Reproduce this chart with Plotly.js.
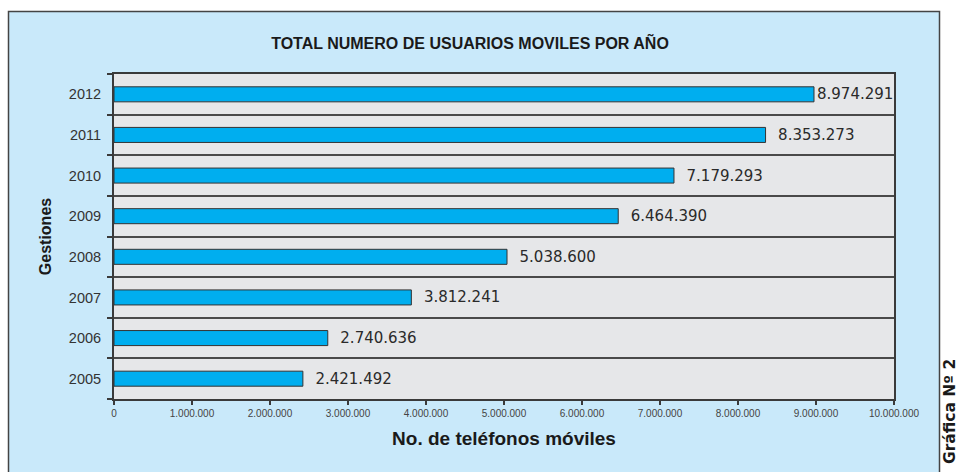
<!DOCTYPE html>
<html>
<head>
<meta charset="utf-8">
<script src="https://cdn.plot.ly/plotly-3.0.1.min.js"></script>
<style>
  html, body { margin: 0; padding: 0; background: #ffffff; }
  #chart { width: 961px; height: 472px; }
</style>
</head>
<body>
<div id="chart"></div>
<script>
// ---- data ----
const years = ['2005', '2006', '2007', '2008', '2009', '2010', '2011', '2012'];
const users = [2421492, 2740636, 3812241, 5038600, 6464390, 7179293, 8353273, 8974291];
const xTickVals = [0, 1000000, 2000000, 3000000, 4000000, 5000000, 6000000, 7000000, 8000000, 9000000, 10000000];

const chartTitle = 'TOTAL NUMERO DE USUARIOS MOVILES POR AÑO';
const xTitle = 'No. de teléfonos móviles';
const yTitle = 'Gestiones';
const sideNote = 'Gráfica Nº 2';

// ---- formatting helpers ----
function fmt(v) {
  return String(Math.round(v)).replace(/\B(?=(\d{3})+(?!\d))/g, '.');
}
const maxVal = Math.max.apply(null, users);
const labels = users.map(v => (v === maxVal ? '' : '\u00A0\u00A0') + fmt(v));

const FONT = '"Liberation Sans", Arial, Helvetica, sans-serif';
const WIDE = '"DejaVu Sans", "Liberation Sans", sans-serif';
const BLUE_BG = '#c9e9fa';
const DARK = '#3a3a3a';

const trace = {
  type: 'bar',
  orientation: 'h',
  x: users,
  y: years,
  text: labels,
  textposition: 'outside',
  constraintext: 'none',
  cliponaxis: false,
  textfont: { family: WIDE, size: 15, color: '#2a2a2a' },
  marker: { color: '#00aeef', line: { color: '#333333', width: 1 } },
  hoverinfo: 'x+y'
};

// plot area: x 114..894, y 74..399
const L = 114, R = 894, T = 74, B = 399, W = 961, H = 472;
const px = v => (v - L) / (R - L);
const py = v => (B - v) / (B - T);

const layout = {
  width: W,
  height: H,
  margin: { l: L, r: W - R, t: T, b: H - B, pad: 0 },
  paper_bgcolor: BLUE_BG,
  plot_bgcolor: '#e6e7e9',
  separators: ',.',
  showlegend: false,
  bargap: 0.63,
  font: { family: FONT, color: '#333' },
  title: {
    text: '<b>' + chartTitle + '</b>',
    font: { family: FONT, size: 16, color: '#1a1a1a' },
    x: 470 / W, xref: 'container', xanchor: 'center',
    y: 1 - 43 / H, yref: 'container', yanchor: 'middle'
  },
  xaxis: {
    range: [0, 10000000],
    tickvals: xTickVals,
    tickformat: ',',
    tickfont: { family: FONT, size: 10, color: '#444' },
    ticks: 'outside', ticklen: 4, tickwidth: 1.5, tickcolor: DARK,
    showgrid: false,
    zeroline: false,
    showline: true, linecolor: DARK, linewidth: 2, mirror: true,
    fixedrange: true,
    title: {
      text: '<b>' + xTitle + '</b>',
      font: { family: FONT, size: 19, color: '#1a1a1a' },
      standoff: 14
    },
    automargin: false
  },
  yaxis: {
    type: 'category',
    tickson: 'boundaries',
    ticks: 'outside', ticklen: 5, tickwidth: 2, tickcolor: DARK,
    tickfont: { family: FONT, size: 14.5, color: '#333' },
    ticklabelstandoff: 8,
    showgrid: true, gridcolor: '#4a4a4a', gridwidth: 2,
    zeroline: false,
    showline: true, linecolor: DARK, linewidth: 2, mirror: true,
    fixedrange: true,
    title: {
      text: '<b>' + yTitle + '</b>',
      font: { family: FONT, size: 16, color: '#1a1a1a' },
      standoff: 13
    },
    automargin: false
  },
  shapes: [
    // white surround outside the blue panel
    { type: 'rect', xref: 'paper', yref: 'paper', layer: 'below',
      x0: -0.3, x1: 1.3, y0: py(11), y1: py(-20), fillcolor: '#ffffff', line: { width: 0 } },
    { type: 'rect', xref: 'paper', yref: 'paper', layer: 'below',
      x0: -0.3, x1: px(8), y0: py(520), y1: py(-20), fillcolor: '#ffffff', line: { width: 0 } },
    { type: 'rect', xref: 'paper', yref: 'paper', layer: 'below',
      x0: px(940), x1: 1.3, y0: py(520), y1: py(-20), fillcolor: '#ffffff', line: { width: 0 } },
    // panel border
    { type: 'rect', xref: 'paper', yref: 'paper', layer: 'below',
      x0: px(8.5), x1: px(939.5), y0: py(520), y1: py(11.5),
      fillcolor: 'rgba(0,0,0,0)', line: { color: '#444', width: 1.5 } }
  ],
  annotations: [
    { text: '<b>' + sideNote + '</b>', xref: 'paper', yref: 'paper',
      x: px(950), y: py(412), xanchor: 'center', yanchor: 'middle',
      textangle: -90, showarrow: false,
      font: { family: WIDE, size: 15.5, color: '#1a1a1a' } }
  ]
};

Plotly.newPlot('chart', [trace], layout, { displayModeBar: false, staticPlot: true });
</script>
</body>
</html>
